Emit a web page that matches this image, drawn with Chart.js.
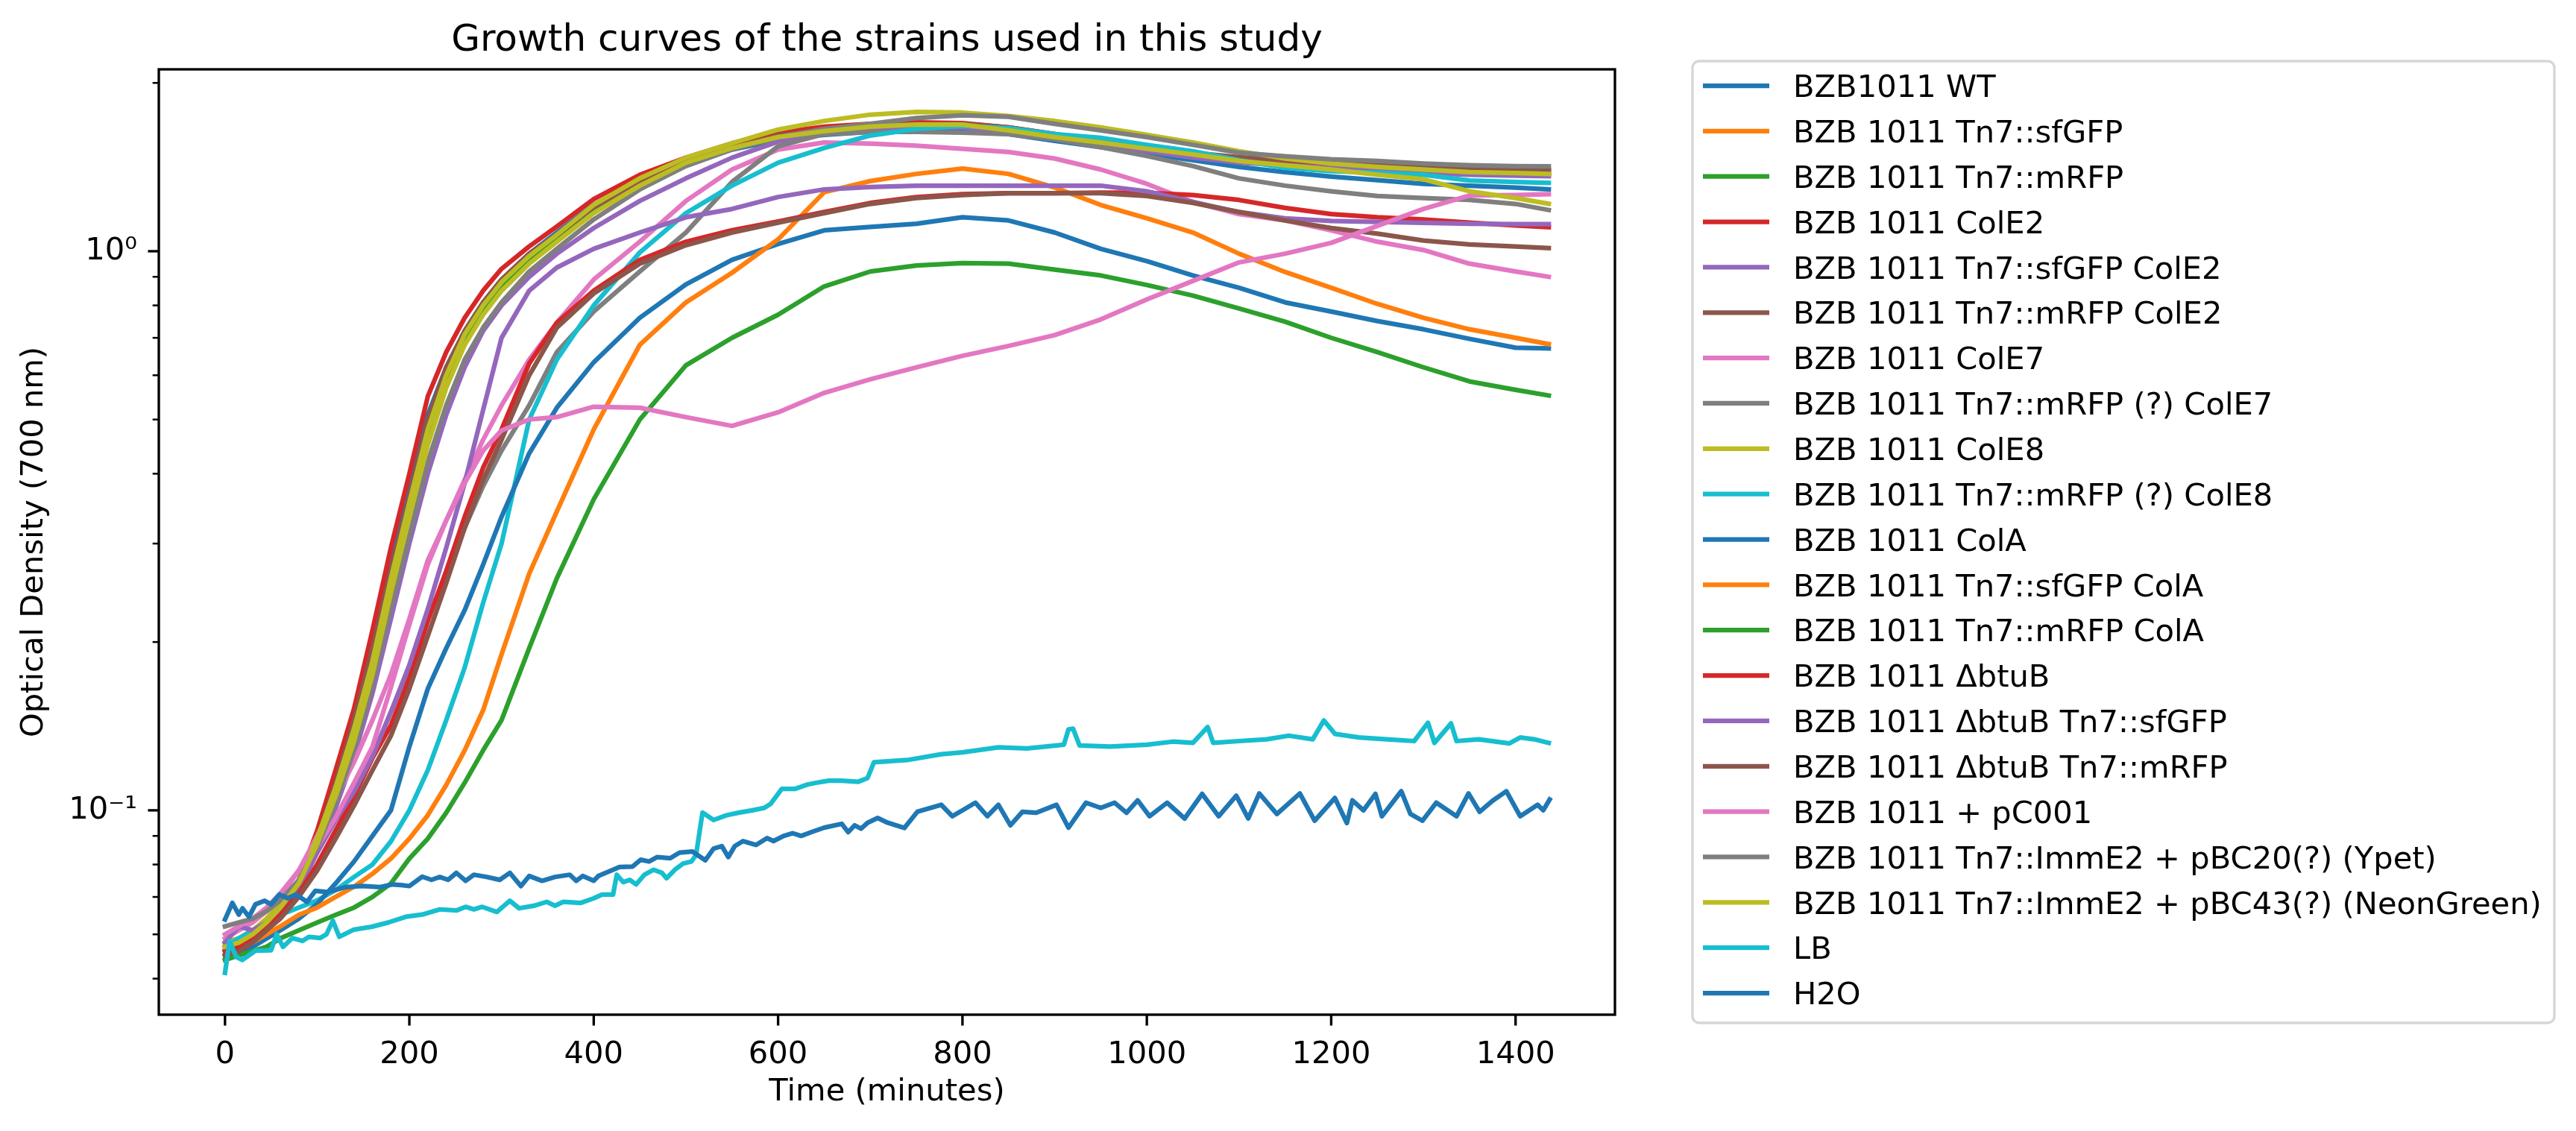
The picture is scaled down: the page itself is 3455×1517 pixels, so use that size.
<!DOCTYPE html>
<html>
<head>
<meta charset="utf-8">
<script src="https://cdn.jsdelivr.net/npm/chart.js@4.4.0/dist/chart.umd.min.js"></script>
<style>
  html, body { margin: 0; padding: 0; background: #fff; overflow: hidden; }
</style>
</head>
<body>
<canvas id="myChart" width="3455" height="1517"></canvas>
<script>
// sampling times (minutes) for the smooth curves
var times = [0,15,30,45,60,80,100,120,140,160,180,200,220,240,260,280,300,330,360,400,450,500,550,600,650,700,750,800,850,900,950,1000,1050,1100,1150,1200,1250,1300,1350,1400,1436];

// OD700
var wt          = [0.056,0.057,0.059,0.062,0.066,0.074,0.090,0.113,0.146,0.198,0.275,0.375,0.51,0.62,0.72,0.81,0.89,0.99,1.08,1.21,1.34,1.43,1.52,1.58,1.615,1.635,1.64,1.64,1.62,1.575,1.535,1.495,1.455,1.415,1.385,1.36,1.34,1.32,1.31,1.30,1.29];
var tn7sfgfp    = [0.057,0.058,0.060,0.062,0.066,0.073,0.088,0.110,0.142,0.19,0.265,0.36,0.49,0.61,0.71,0.80,0.88,0.98,1.07,1.20,1.34,1.44,1.53,1.59,1.635,1.665,1.68,1.675,1.65,1.60,1.565,1.525,1.49,1.465,1.445,1.425,1.41,1.40,1.39,1.385,1.38];
var tn7mrfp     = [0.055,0.056,0.058,0.061,0.065,0.072,0.086,0.107,0.138,0.185,0.255,0.35,0.47,0.59,0.70,0.79,0.87,0.97,1.06,1.19,1.33,1.44,1.53,1.59,1.63,1.66,1.675,1.67,1.64,1.60,1.56,1.52,1.48,1.455,1.43,1.41,1.395,1.385,1.378,1.372,1.37];
var colE2       = [0.057,0.058,0.060,0.063,0.066,0.075,0.092,0.118,0.152,0.21,0.295,0.40,0.55,0.66,0.76,0.85,0.93,1.02,1.107,1.24,1.37,1.47,1.56,1.63,1.67,1.69,1.70,1.695,1.665,1.62,1.575,1.535,1.495,1.465,1.445,1.43,1.42,1.41,1.405,1.40,1.40];
var sfgfpColE2  = [0.058,0.059,0.061,0.063,0.066,0.072,0.084,0.101,0.125,0.162,0.22,0.30,0.40,0.51,0.62,0.72,0.80,0.90,0.99,1.10,1.23,1.35,1.47,1.57,1.63,1.655,1.665,1.665,1.635,1.59,1.55,1.51,1.47,1.44,1.425,1.41,1.395,1.38,1.37,1.365,1.362];
var mrfpColE2   = [0.056,0.057,0.059,0.062,0.066,0.074,0.089,0.112,0.145,0.195,0.27,0.365,0.50,0.62,0.72,0.81,0.89,0.99,1.07,1.20,1.33,1.45,1.53,1.61,1.65,1.675,1.685,1.69,1.665,1.62,1.58,1.54,1.50,1.473,1.456,1.437,1.425,1.415,1.41,1.40,1.395];
var colE7       = [0.059,0.061,0.063,0.066,0.070,0.078,0.090,0.105,0.122,0.145,0.175,0.22,0.28,0.33,0.39,0.46,0.53,0.64,0.745,0.89,1.04,1.23,1.40,1.52,1.565,1.558,1.545,1.525,1.505,1.465,1.40,1.32,1.225,1.165,1.135,1.09,1.04,1.005,0.95,0.92,0.90];
var mrfpColE7   = [0.058,0.059,0.060,0.062,0.065,0.071,0.080,0.092,0.106,0.125,0.150,0.180,0.22,0.265,0.32,0.38,0.44,0.53,0.66,0.78,0.92,1.08,1.33,1.54,1.62,1.635,1.635,1.63,1.62,1.585,1.535,1.48,1.42,1.35,1.31,1.28,1.255,1.245,1.235,1.215,1.185];
var colE8       = [0.058,0.059,0.061,0.064,0.068,0.075,0.089,0.110,0.140,0.185,0.26,0.355,0.48,0.60,0.71,0.80,0.88,0.98,1.07,1.21,1.35,1.47,1.56,1.65,1.71,1.755,1.775,1.77,1.745,1.71,1.665,1.615,1.565,1.51,1.465,1.435,1.415,1.40,1.385,1.38,1.375];
var mrfpColE8   = [0.057,0.059,0.061,0.063,0.065,0.067,0.069,0.072,0.076,0.080,0.088,0.100,0.118,0.145,0.18,0.235,0.30,0.50,0.64,0.80,0.995,1.17,1.31,1.44,1.53,1.61,1.655,1.675,1.66,1.62,1.595,1.55,1.51,1.455,1.41,1.39,1.382,1.37,1.338,1.33,1.325];
var colA        = [0.055,0.056,0.057,0.059,0.061,0.064,0.068,0.074,0.081,0.090,0.100,0.13,0.165,0.195,0.228,0.275,0.335,0.435,0.525,0.633,0.76,0.872,0.965,1.03,1.09,1.105,1.12,1.15,1.135,1.08,1.01,0.96,0.905,0.86,0.81,0.78,0.75,0.725,0.697,0.672,0.67];
var sfgfpColA   = [0.057,0.057,0.058,0.060,0.062,0.065,0.067,0.070,0.073,0.077,0.082,0.089,0.098,0.111,0.128,0.151,0.19,0.265,0.3425,0.48,0.68,0.81,0.915,1.05,1.275,1.335,1.375,1.405,1.375,1.30,1.21,1.145,1.08,0.99,0.918,0.86,0.805,0.76,0.725,0.70,0.682];
var mrfpColA    = [0.054,0.055,0.056,0.057,0.059,0.061,0.063,0.065,0.067,0.070,0.074,0.082,0.089,0.099,0.112,0.128,0.145,0.195,0.26,0.36,0.50,0.625,0.70,0.77,0.865,0.92,0.943,0.952,0.95,0.927,0.905,0.87,0.833,0.79,0.748,0.70,0.66,0.62,0.585,0.565,0.552];
var dBtuB       = [0.056,0.057,0.059,0.062,0.065,0.071,0.080,0.092,0.106,0.124,0.142,0.172,0.218,0.268,0.335,0.41,0.48,0.63,0.745,0.85,0.965,1.04,1.09,1.13,1.175,1.22,1.25,1.265,1.27,1.27,1.273,1.272,1.26,1.235,1.195,1.165,1.15,1.14,1.125,1.112,1.104];
var dBtuBSfgfp  = [0.058,0.062,0.061,0.063,0.067,0.074,0.084,0.096,0.108,0.125,0.15,0.182,0.229,0.295,0.385,0.52,0.70,0.85,0.935,1.01,1.08,1.15,1.19,1.25,1.29,1.303,1.31,1.31,1.31,1.31,1.31,1.28,1.225,1.175,1.145,1.133,1.128,1.124,1.12,1.118,1.118];
var dBtuBMrfp   = [0.055,0.056,0.058,0.061,0.064,0.070,0.078,0.089,0.102,0.118,0.136,0.165,0.205,0.255,0.32,0.39,0.46,0.60,0.73,0.84,0.95,1.025,1.08,1.125,1.17,1.215,1.245,1.26,1.27,1.27,1.27,1.255,1.22,1.175,1.135,1.10,1.075,1.045,1.028,1.02,1.013];
var pC001       = [0.060,0.062,0.064,0.067,0.071,0.078,0.086,0.097,0.112,0.13,0.166,0.215,0.275,0.33,0.385,0.44,0.478,0.50,0.505,0.527,0.525,0.505,0.487,0.515,0.558,0.59,0.62,0.65,0.677,0.708,0.755,0.82,0.885,0.955,0.99,1.035,1.11,1.19,1.258,1.26,1.265];
var pBC20       = [0.062,0.063,0.064,0.066,0.069,0.075,0.086,0.103,0.128,0.168,0.23,0.31,0.42,0.53,0.64,0.73,0.81,0.92,1.01,1.14,1.29,1.42,1.52,1.60,1.655,1.69,1.73,1.75,1.74,1.69,1.645,1.60,1.55,1.50,1.478,1.46,1.45,1.435,1.425,1.42,1.418];
var pBC43       = [0.057,0.058,0.060,0.063,0.067,0.074,0.087,0.106,0.133,0.175,0.245,0.335,0.45,0.57,0.68,0.77,0.85,0.95,1.04,1.17,1.31,1.44,1.53,1.60,1.64,1.67,1.685,1.685,1.645,1.60,1.565,1.525,1.49,1.45,1.425,1.40,1.37,1.345,1.28,1.245,1.216];

// the two blanks are noisy, so they get their own time points
var lbTimes = [0,5,12,19,33,50,56,63,73,84,91,103,110,117,124,140,159,177,196,214,233,251,261,270,279,295,309,319,335,349,358,367,386,400,409,421,425,432,439,446,455,465,474,479,488,497,506,511,518,530,544,558,572,585,592,604,618,632,641,655,669,687,697,704,719,740,777,800,839,870,902,910,915,920,927,960,1000,1028,1050,1066,1072,1100,1130,1154,1180,1192,1204,1230,1260,1290,1305,1312,1330,1336,1360,1393,1405,1420,1436];
var lbOD    = [0.0512,0.0584,0.0547,0.0540,0.0561,0.0562,0.0600,0.0570,0.0591,0.0584,0.0594,0.0591,0.0600,0.0635,0.0594,0.0612,0.0619,0.0630,0.0645,0.0651,0.0665,0.0662,0.0672,0.0665,0.0672,0.0658,0.0689,0.0668,0.0675,0.0686,0.0675,0.0686,0.0683,0.0696,0.0707,0.0707,0.0767,0.0744,0.0751,0.0737,0.0767,0.0783,0.0773,0.0756,0.0783,0.0803,0.0810,0.0832,0.0991,0.0961,0.0980,0.0991,0.1000,0.1010,0.1027,0.1092,0.1092,0.1112,0.1120,0.1130,0.1130,0.1125,0.1142,0.1219,0.1224,0.1230,0.1260,0.1270,0.1296,0.1290,0.1306,0.1310,0.1396,0.1400,0.1306,0.1300,0.1310,0.1327,0.1320,0.1409,0.1320,0.1330,0.1340,0.1360,0.1340,0.1448,0.1370,0.1350,0.1340,0.1330,0.1434,0.1320,0.1430,0.1330,0.1340,0.1317,0.1350,0.1340,0.1320];
var h2oTimes = [0,8,15,19,26,33,43,50,59,68,77,89,98,112,131,149,168,182,191,200,214,224,233,242,251,261,270,284,298,309,321,330,344,358,374,381,388,400,405,418,428,442,451,460,469,483,493,507,521,530,539,546,553,562,576,588,595,606,616,625,636,650,669,676,683,690,697,708,719,
                737,751,777,789,800,814,827,839,852,865,880,902,915,934,950,965,978,990,1003,1022,1041,1060,1078,1097,1110,1122,1141,1166,1182,1204,1217,1223,1235,1248,1255,1276,1286,1299,1314,1336,1349,1361,1375,1390,1405,1424,1430,1437];
var h2oOD    = [0.0638,0.0683,0.0651,0.0668,0.0645,0.0679,0.0689,0.0679,0.0707,0.0696,0.0707,0.0686,0.0718,0.0714,0.0729,0.0732,0.0729,0.0737,0.0735,0.0732,0.0761,0.0751,0.0760,0.0751,0.0773,0.0748,0.0767,0.0760,0.0751,0.0773,0.0732,0.0763,0.0748,0.0760,0.0767,0.0748,0.0763,0.0748,0.0763,0.0779,0.0792,0.0793,0.0816,0.0810,0.0825,0.0821,0.0840,0.0844,0.0814,0.0854,0.0863,0.0825,0.0863,0.0881,0.0867,0.0892,0.0881,0.0900,0.0910,0.0900,0.0914,0.0931,0.0946,0.0914,0.0940,0.0927,0.0950,0.0969,0.0950,
                0.0930,0.0994,0.1023,0.0976,0.1000,0.1032,0.0976,0.1023,0.0940,0.0994,0.0990,0.1023,0.0931,0.1032,0.1010,0.1032,0.0990,0.1042,0.0976,0.1032,0.0967,0.1070,0.0976,0.1062,0.0967,0.1072,0.0985,0.1072,0.0958,0.1052,0.0949,0.1042,0.1000,0.1070,0.0976,0.1082,0.0985,0.0958,0.1032,0.0976,0.1072,0.0994,0.1040,0.1082,0.0976,0.1023,0.1000,0.1046];

var strainNames = [
  'BZB1011 WT', 'BZB 1011 Tn7::sfGFP', 'BZB 1011 Tn7::mRFP', 'BZB 1011 ColE2',
  'BZB 1011 Tn7::sfGFP ColE2', 'BZB 1011 Tn7::mRFP ColE2', 'BZB 1011 ColE7',
  'BZB 1011 Tn7::mRFP (?) ColE7', 'BZB 1011 ColE8', 'BZB 1011 Tn7::mRFP (?) ColE8',
  'BZB 1011 ColA', 'BZB 1011 Tn7::sfGFP ColA', 'BZB 1011 Tn7::mRFP ColA',
  'BZB 1011 \u0394btuB', 'BZB 1011 \u0394btuB Tn7::sfGFP', 'BZB 1011 \u0394btuB Tn7::mRFP',
  'BZB 1011 + pC001', 'BZB 1011 Tn7::ImmE2 + pBC20(?) (Ypet)',
  'BZB 1011 Tn7::ImmE2 + pBC43(?) (NeonGreen)', 'LB', 'H2O'
];
var curves = [
  [times, wt], [times, tn7sfgfp], [times, tn7mrfp], [times, colE2],
  [times, sfgfpColE2], [times, mrfpColE2], [times, colE7], [times, mrfpColE7],
  [times, colE8], [times, mrfpColE8], [times, colA], [times, sfgfpColA],
  [times, mrfpColA], [times, dBtuB], [times, dBtuBSfgfp], [times, dBtuBMrfp],
  [times, pC001], [times, pBC20], [times, pBC43], [lbTimes, lbOD], [h2oTimes, h2oOD]
];
var tab10 = ['#1f77b4','#ff7f0e','#2ca02c','#d62728','#9467bd','#8c564b','#e377c2','#7f7f7f','#bcbd22','#17becf'];

var xTickVals = [0, 200, 400, 600, 800, 1000, 1200, 1400];
var yMajorVals = [0.1, 1];
var yMinorVals = [0.05, 0.06, 0.07, 0.08, 0.09, 0.2, 0.3, 0.4, 0.5, 0.6, 0.7, 0.8, 0.9, 2];

var chartTitle = 'Growth curves of the strains used in this study';
var xTitle = 'Time (minutes)';
var yTitle = 'Optical Density (700 nm)';

var PT = 300 / 72;
var FONT = "'DejaVu Sans', sans-serif";

function toPoints(ts, vs) {
  return ts.map(function (t, i) { return {x: t, y: vs[i]}; });
}

// axes frame, tick marks, texts and the boxed legend (matplotlib look)
var decorations = {
  id: 'decorations',
  afterDraw: function (chart) {
    var ctx = chart.ctx;
    var a = chart.chartArea;
    var xs = chart.scales.x, ys = chart.scales.y;
    ctx.save();
    ctx.strokeStyle = '#000';
    ctx.fillStyle = '#000';
    ctx.lineCap = 'butt';

    ctx.lineWidth = 0.8 * PT;
    ctx.strokeRect(a.left, a.top, a.right - a.left, a.bottom - a.top);

    xTickVals.forEach(function (v) {
      var px = xs.getPixelForValue(v);
      ctx.beginPath(); ctx.moveTo(px, a.bottom); ctx.lineTo(px, a.bottom + 3.5 * PT); ctx.stroke();
    });
    yMajorVals.forEach(function (v) {
      var py = ys.getPixelForValue(v);
      ctx.beginPath(); ctx.moveTo(a.left, py); ctx.lineTo(a.left - 3.5 * PT, py); ctx.stroke();
    });
    ctx.lineWidth = 0.6 * PT;
    yMinorVals.forEach(function (v) {
      var py = ys.getPixelForValue(v);
      ctx.beginPath(); ctx.moveTo(a.left, py); ctx.lineTo(a.left - 2 * PT, py); ctx.stroke();
    });

    var cx = (a.left + a.right) / 2;
    ctx.textAlign = 'center';
    ctx.textBaseline = 'alphabetic';
    ctx.font = (12 * PT) + 'px ' + FONT;
    ctx.fillText(chartTitle, cx, 68);
    ctx.font = (10 * PT) + 'px ' + FONT;
    ctx.fillText(xTitle, cx, 1476);
    ctx.save();
    ctx.translate(57, (a.top + a.bottom) / 2);
    ctx.rotate(-Math.PI / 2);
    ctx.fillText(yTitle, 0, 0);
    ctx.restore();

    // legend
    var lx = a.right + 104, ly = 82, lw = 1156, lh = 1290;
    ctx.beginPath();
    ctx.roundRect(lx, ly, lw, lh, 9);
    ctx.fillStyle = '#fff';
    ctx.fill();
    ctx.strokeStyle = '#d6d6d6';
    ctx.lineWidth = 0.8 * PT;
    ctx.stroke();
    ctx.textAlign = 'left';
    chart.data.datasets.forEach(function (ds, i) {
      var yy = ly + 33 + i * 60.85;
      ctx.strokeStyle = ds.borderColor;
      ctx.lineWidth = 1.5 * PT;
      ctx.beginPath(); ctx.moveTo(lx + 14, yy); ctx.lineTo(lx + 103, yy); ctx.stroke();
      ctx.fillStyle = '#000';
      ctx.fillText(ds.label, lx + 135, yy + 15.2);
    });
    ctx.restore();
  }
};

var ctx = document.getElementById('myChart').getContext('2d');

var datasets = [];
for (var i = 0; i < strainNames.length; i++) {
  datasets.push({
    label: strainNames[i],
    data: toPoints(curves[i][0], curves[i][1]),
    borderColor: tab10[i % 10],
    backgroundColor: tab10[i % 10],
    borderWidth: 1.5 * PT,
    pointRadius: 0,
    tension: 0,
    fill: false,
    borderJoinStyle: 'round',
    borderCapStyle: 'square',
    order: strainNames.length - i   // later series drawn on top, like matplotlib
  });
}

var myChart = new Chart(ctx, {
  type: 'line',
  data: { datasets: datasets },
  options: {
    responsive: false,
    devicePixelRatio: 1,
    animation: false,
    layout: { padding: { left: 0, top: 93, right: 1289, bottom: 0 } },
    plugins: {
      legend: { display: false },
      title: { display: false },
      tooltip: { enabled: false }
    },
    scales: {
      x: {
        type: 'linear',
        min: -71.8,
        max: 1507.8,
        grid: { display: false, drawTicks: false },
        border: { display: false },
        afterBuildTicks: function (s) { s.ticks = xTickVals.map(function (v) { return {value: v}; }); },
        afterFit: function (s) { s.height = 156; },
        ticks: {
          autoSkip: false, maxRotation: 0, minRotation: 0,
          padding: 7 * PT, color: '#000',
          font: { family: FONT, size: 10 * PT },
          callback: function (v) { return String(v); }
        }
      },
      y: {
        type: 'logarithmic',
        min: 0.0431,
        max: 2.115,
        grid: { display: false, drawTicks: false },
        border: { display: false },
        afterBuildTicks: function (s) {
          s.ticks = yMajorVals.map(function (v) { return {value: v, major: true}; });
        },
        afterFit: function (s) { s.width = 213; },
        ticks: {
          autoSkip: false,
          padding: 7 * PT, color: '#000',
          font: { family: FONT, size: 10 * PT },
          callback: function (v) { return v === 1 ? '10\u2070' : '10\u207B\u00B9'; }
        }
      }
    }
  },
  plugins: [decorations]
});
</script>
</body>
</html>
